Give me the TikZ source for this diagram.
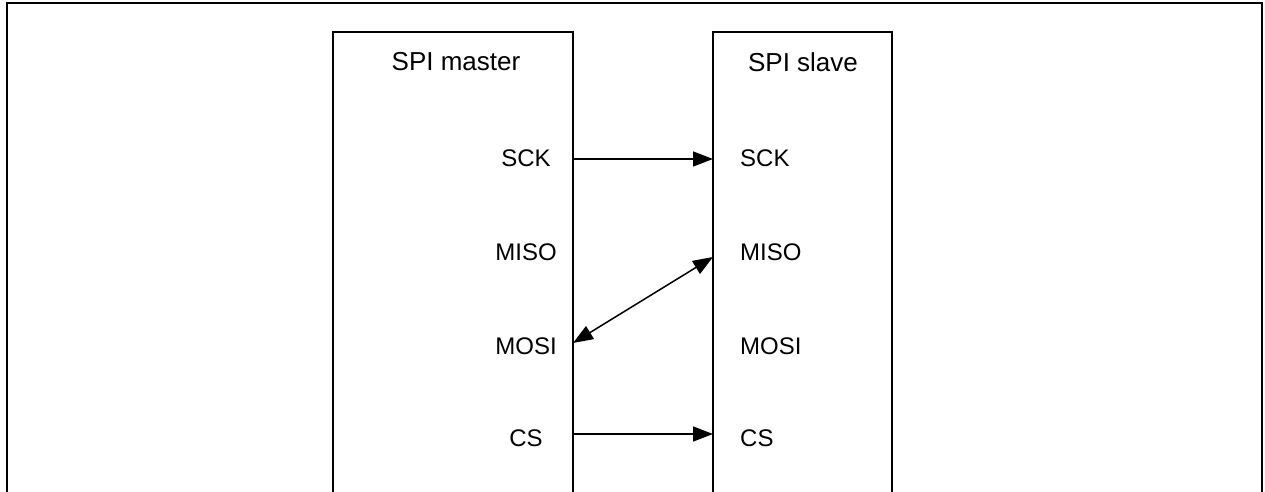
\documentclass[tikz,border=0pt]{standalone}
\usepackage{fontspec}
\setmainfont{Liberation Sans}
\usetikzlibrary{arrows.meta}

\begin{document}
\begin{tikzpicture}[x=1pt,y=-1pt]
    % Node styles
    \tikzset{
      block/.style={draw,rectangle,line width=1.6pt,minimum height=540pt,inner sep=0pt,outer sep=0pt,anchor=north west},
      title label/.style={font=\fontsize{26}{30}\selectfont,inner sep=0pt},
      pin label/.style={font=\fontsize{24}{28}\selectfont,inner sep=0pt},
      signal/.style={line width=1.5pt,-{Triangle[length=20pt,width=15pt]}},
      both signal/.style={line width=1.5pt,{Triangle[length=20pt,width=15pt]}-{Triangle[length=20pt,width=15pt]}}
    }
    \useasboundingbox (0,0) rectangle (1265,492);
    \clip (0,0) rectangle (1265,492);

    % --- Outer frame ---
    \draw[line width=2.5pt] (7,520) -- (7,3) -- (1262,3) -- (1262,520);

    % --- Blocks ---
    \node[block, minimum width=240pt] (master) at (333,32) {};
    \node[block, minimum width=179pt] (slave) at (713,32) {};
    \node[title label] (master_title) at (456,62) {SPI master};
    \node[title label] (slave_title) at (803,62) {SPI slave};

    % --- Master pins ---
    \node[pin label] (m_sck) at (526,158) {SCK};
    \node[pin label] (m_miso) at (526,252) {MISO};
    \node[pin label] (m_mosi) at (526,346) {MOSI};
    \node[pin label] (m_cs) at (526,438) {CS};

    % --- Slave pins ---
    \node[pin label, anchor=west] (s_sck) at (740,158) {SCK};
    \node[pin label, anchor=west] (s_miso) at (740,252) {MISO};
    \node[pin label, anchor=west] (s_mosi) at (740,346) {MOSI};
    \node[pin label, anchor=west] (s_cs) at (740,438) {CS};

    % Pin points on the block edges
    \coordinate (m_sck_pin) at ([yshift=-1pt]master.east |- m_sck);
    \coordinate (s_sck_pin) at ([yshift=-1pt]slave.west |- s_sck);
    \coordinate (s_miso_pin) at ([yshift=-5pt]slave.west |- s_miso);
    \coordinate (m_mosi_pin) at ([yshift=3pt]master.east |- m_mosi);
    \coordinate (m_cs_pin) at ([yshift=4pt]master.east |- m_cs);
    \coordinate (s_cs_pin) at ([yshift=4pt]slave.west |- s_cs);

    % --- Connections ---
    \draw[signal] (m_sck_pin) -- (s_sck_pin);
    \draw[both signal] (m_mosi_pin) -- (s_miso_pin);
    \draw[signal] (m_cs_pin) -- (s_cs_pin);

  \end{tikzpicture}
\end{document}
